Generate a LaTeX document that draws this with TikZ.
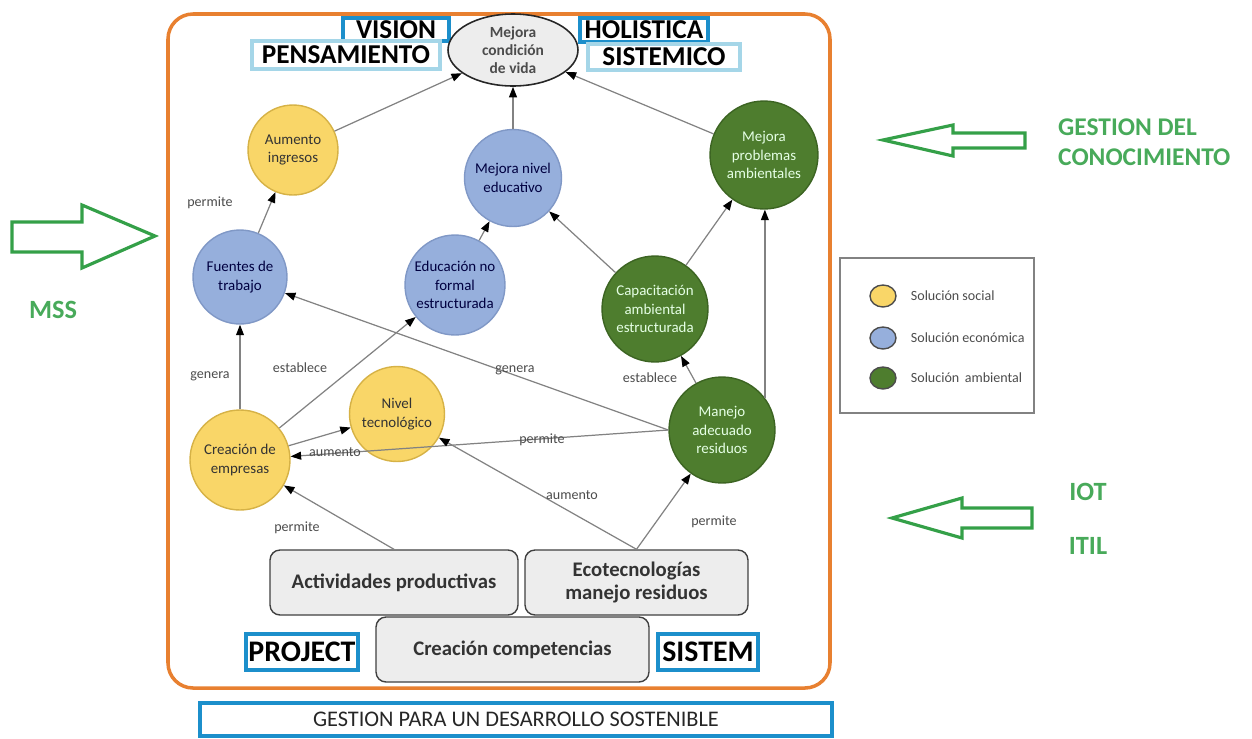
\documentclass[tikz,border=0pt]{standalone}
\usepackage{fontspec}
\setmainfont{Carlito}
\usetikzlibrary{arrows.meta,positioning,shapes.geometric}

\definecolor{marco}{RGB}{232,128,48}
\definecolor{amarillo}{RGB}{249,214,104}
\definecolor{amarilloB}{RGB}{214,178,70}
\definecolor{azul}{RGB}{150,175,220}
\definecolor{azulB}{RGB}{128,152,198}
\definecolor{verde}{RGB}{78,125,46}
\definecolor{verdeB}{RGB}{60,100,34}
\definecolor{celeste}{RGB}{28,143,203}
\definecolor{celesteC}{RGB}{165,214,232}
\definecolor{flecha}{RGB}{52,160,72}
\definecolor{gris}{RGB}{237,237,237}
\definecolor{linea}{RGB}{130,130,130}

\begin{document}
\begin{tikzpicture}[x=0.02cm, y=-0.02cm,
    sol/.style={circle, line width=0.8pt, inner sep=0pt, align=center,
      font=\fontsize{8.5}{10.5}\selectfont},
    social/.style={sol, draw=amarilloB, fill=amarillo, text=black!80},
    econ/.style={sol, draw=azulB, fill=azul, text=blue!25!black},
    ambi/.style={sol, draw=verdeB, fill=verde, text=white!90!green},
    caja/.style={draw=black!75, fill=gris, rounded corners=0.2cm, line width=0.8pt,
      minimum height=1.3cm, align=center, text=black!80,
      font=\fontsize{11.8}{13}\selectfont\bfseries},
    etiq/.style={line width=2.2pt, inner sep=0pt, font=\fontsize{15.5}{18}\selectfont\bfseries},
    conn/.style={draw=linea, line width=0.7pt, -{Triangle[length=6pt,width=4.5pt,black]}},
    lbl/.style={text=black!70, font=\fontsize{8}{9}\selectfont},
    verdetxt/.style={text=flecha!90!white, font=\fontsize{15}{18}\selectfont\bfseries},
    bigarrow/.style={draw=flecha, line width=1.8pt, line join=miter}
  ]
  \useasboundingbox (0,0) rectangle (1252,738);

  % marco
  \draw[marco, line width=2pt, rounded corners=0.5cm] (168,14) rectangle (830,688);

  % etiquetas superiores
  \node[etiq, draw=celeste, minimum width=2.12cm, minimum height=0.46cm] (vision) at (396,29.5) {VISION};
  \node[etiq, draw=celesteC, minimum width=3.76cm, minimum height=0.56cm] (pens) at (346,55) {PENSAMIENTO};
  \node[etiq, draw=celeste, minimum width=2.56cm, minimum height=0.48cm] (holis) at (644,30) {HOLISTICA};
  \node[etiq, draw=celesteC, minimum width=3.04cm, minimum height=0.52cm] (siste) at (664,57) {SISTEMICO};

  \node[ellipse, draw=black!85, fill=gris, line width=0.9pt, minimum width=2.6cm, minimum height=1.44cm,
    inner sep=0pt, align=center, text=black!70, font=\fontsize{8.8}{10.2}\selectfont\bfseries]
    (vida) at (513,50) {Mejora\\condición\\de vida};

  % soluciones
  \node[social, minimum size=1.8cm] (aum) at (293,150) {Aumento\\ingresos};
  \node[econ, minimum size=1.94cm] (edu) at (513,178) {Mejora nivel\\educativo};
  \node[ambi, minimum size=2.16cm] (amb) at (764,155) {Mejora\\problemas\\ambientales};
  \node[econ, minimum size=1.88cm] (fue) at (240,277) {Fuentes de\\trabajo};
  \node[econ, minimum size=2.0cm] (nofor) at (455,285) {Educación no\\formal\\estructurada};
  \node[ambi, minimum size=2.12cm] (cap) at (655,309) {Capacitación\\ambiental\\estructurada};
  \node[social, minimum size=1.9cm] (tec) at (397,414) {Nivel\\tecnológico};
  \node[social, minimum size=2.0cm] (emp) at (240,460) {Creación de\\empresas};
  \node[ambi, minimum size=2.12cm] (man) at (722,430) {Manejo\\adecuado\\residuos};

  % cajas inferiores
  \node[caja, minimum width=5.46cm] (comp) at (512.5,649.5) {Creación competencias};
  \node[caja, minimum width=4.96cm] (act) at (394,582.5) {Actividades productivas};
  \node[caja, minimum width=4.46cm] (eco) at (636.5,582.5) {Ecotecnologías\\manejo residuos};
  \node[etiq, draw=celeste, minimum width=2.24cm, minimum height=0.72cm, font=\fontsize{17}{19}\selectfont\bfseries]
    (proj) at (302,652) {PROJECT};
  \node[etiq, draw=celeste, minimum width=2.0cm, minimum height=0.72cm, font=\fontsize{17}{19}\selectfont\bfseries]
    (sist) at (708,652) {SISTEM};
  \node[draw=celeste, line width=1.8pt, minimum width=12.64cm, minimum height=0.66cm, inner sep=0pt,
    text=black!85, font=\fontsize{12.7}{14}\selectfont] (gds) at (516,719.5) {GESTION PARA UN DESARROLLO SOSTENIBLE};

  % relaciones
  \draw[conn] (aum) -- (vida);
  \draw[conn] (edu) -- (vida);
  \draw[conn] (amb) -- (vida);
  \draw[conn] (fue) -- (aum);
  \draw[conn] (nofor) -- (edu);
  \draw[conn] (cap) -- (edu);
  \draw[conn] (cap) -- (amb);
  \draw[conn] (man.37) -- (man.37 |- amb.south);
  \draw[conn] (emp) -- (fue);
  \draw[conn] (emp) -- (nofor);
  \draw[conn] (emp) -- (tec);
  \draw[conn] (man.west) -- (fue);
  \draw[conn] (man.west) -- (emp);
  \draw[conn] (man) -- (cap);
  \draw[conn] (act.north) -- (emp);
  \draw[conn] (eco.north) -- (tec);
  \draw[conn] (eco.north) -- (man);

  \node[lbl] (l1) at (210,203) {permite};
  \node[lbl] (l2) at (210,376) {genera};
  \node[lbl] (l3) at (300,368) {establece};
  \node[lbl] (l4) at (335,452) {aumento};
  \node[lbl] (l5) at (515,370) {genera};
  \node[lbl] (l6) at (542,440) {permite};
  \node[lbl] (l7) at (650,378) {establece};
  \node[lbl] (l8) at (297,528) {permite};
  \node[lbl] (l9) at (572,495) {aumento};
  \node[lbl] (l10) at (714,522) {permite};

  % leyenda
  \draw[linea, line width=1pt] (840,258) rectangle (1034,413);
  \node[ellipse, draw=black!70, fill=amarillo, line width=0.8pt, minimum width=0.52cm, minimum height=0.44cm] (lsoc) at (883,296) {};
  \node[ellipse, draw=black!70, fill=azul, line width=0.8pt, minimum width=0.52cm, minimum height=0.44cm] (leco) at (883,338) {};
  \node[ellipse, draw=black!70, fill=verde, line width=0.8pt, minimum width=0.52cm, minimum height=0.44cm] (lamb) at (883,378) {};
  \node[lbl, anchor=west, right=0.16cm of lsoc] (tsoc) {Solución social};
  \node[lbl, anchor=west, right=0.16cm of leco] (teco) {Solución económica};
  \node[lbl, anchor=west, right=0.16cm of lamb] (tamb) {Solución\, ambiental};

  % flechas verdes
  \draw[bigarrow] (12,222) -- (82,222) -- (82,205) -- (155,236) -- (82,268) -- (82,252) -- (12,252) -- cycle;
  \draw[bigarrow] (883,140) -- (953,125) -- (953,133) -- (1025,133) -- (1025,148) -- (953,148) -- (953,156) -- cycle;
  \draw[bigarrow] (892,518) -- (962,498) -- (962,508) -- (1032,508) -- (1032,528) -- (962,528) -- (962,538) -- cycle;

  \node[verdetxt] (mss) at (53,310) {MSS};
  \node[verdetxt, anchor=west, align=left, font=\fontsize{14.5}{17}\selectfont\bfseries] (gdc) at (1052,142) {GESTION DEL\\CONOCIMIENTO};
  \node[verdetxt] (iot) at (1088,492) {IOT};
  \node[verdetxt] (itil) at (1088,546) {ITIL};

\end{tikzpicture}
\end{document}
